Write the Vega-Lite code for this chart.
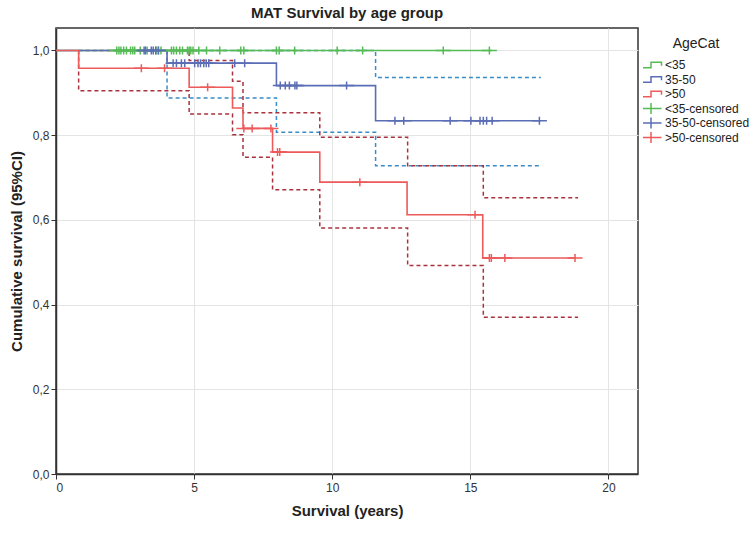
{
  "$schema": "https://vega.github.io/schema/vega-lite/v6.json",
  "width": 582,
  "height": 446,
  "autosize": {"type": "none"},
  "padding": {"left": 56, "top": 28, "right": 111, "bottom": 59},
  "background": "white",
  "title": {"text": "MAT Survival by age group", "font": "Liberation Sans", "fontSize": 15, "fontWeight": "bold", "color": "#222", "anchor": "middle", "offset": 7},
  "config": {
    "font": "Liberation Sans",
    "view": {"stroke": "#333", "strokeWidth": 1.5},
    "axis": {"gridColor": "#e4e4e4", "gridWidth": 1, "domainColor": "#333", "domainWidth": 1.5, "tickColor": "#333", "tickSize": 5, "labelFont": "Liberation Sans", "labelFontSize": 12, "labelColor": "#333", "titleFont": "Liberation Sans", "titleFontSize": 15, "titleFontWeight": "bold", "titleColor": "#222"},
    "legend": {"orient": "none", "legendX": 587, "legendY": 9, "titleFontSize": 14, "titleFontWeight": "normal", "titleColor": "#222", "titleAnchor": "middle", "titlePadding": 7, "labelFontSize": 12, "labelColor": "#222", "labelOffset": 6, "symbolSize": 196, "symbolStrokeWidth": 1.5, "symbolFillColor": "transparent", "rowPadding": 0.5, "clipHeight": 14}
  },
  "datasets": {
    "curves": [
      {"group": "<35", "t": 0, "s": 1},
      {"group": "<35", "t": 15.77, "s": 1},
      {"group": "35-50", "t": 0, "s": 1},
      {"group": "35-50", "t": 4.02, "s": 0.970},
      {"group": "35-50", "t": 7.98, "s": 0.917},
      {"group": "35-50", "t": 11.57, "s": 0.834},
      {"group": "35-50", "t": 17.55, "s": 0.834},
      {"group": ">50", "t": 0, "s": 1},
      {"group": ">50", "t": 0.82, "s": 0.958},
      {"group": ">50", "t": 4.82, "s": 0.913},
      {"group": ">50", "t": 6.39, "s": 0.864},
      {"group": ">50", "t": 6.77, "s": 0.816},
      {"group": ">50", "t": 7.84, "s": 0.760},
      {"group": ">50", "t": 9.55, "s": 0.689},
      {"group": ">50", "t": 12.71, "s": 0.612},
      {"group": ">50", "t": 15.45, "s": 0.510},
      {"group": ">50", "t": 18.8, "s": 0.510}
    ],
    "ci": [
      {"group": "35-50", "bound": "upper", "t": 4.02, "s": 1},
      {"group": "35-50", "bound": "upper", "t": 11.57, "s": 0.936},
      {"group": "35-50", "bound": "upper", "t": 17.55, "s": 0.936},
      {"group": "35-50", "bound": "lower", "t": 4.02, "s": 1},
      {"group": "35-50", "bound": "lower", "t": 4.02, "s": 0.888},
      {"group": "35-50", "bound": "lower", "t": 7.98, "s": 0.807},
      {"group": "35-50", "bound": "lower", "t": 11.57, "s": 0.728},
      {"group": "35-50", "bound": "lower", "t": 17.55, "s": 0.728},
      {"group": ">50", "bound": "upper", "t": 0.82, "s": 1},
      {"group": ">50", "bound": "upper", "t": 4.82, "s": 0.976},
      {"group": ">50", "bound": "upper", "t": 6.39, "s": 0.927},
      {"group": ">50", "bound": "upper", "t": 6.77, "s": 0.853},
      {"group": ">50", "bound": "upper", "t": 9.55, "s": 0.795},
      {"group": ">50", "bound": "upper", "t": 12.73, "s": 0.728},
      {"group": ">50", "bound": "upper", "t": 15.47, "s": 0.652},
      {"group": ">50", "bound": "upper", "t": 18.9, "s": 0.652},
      {"group": ">50", "bound": "lower", "t": 0.82, "s": 1},
      {"group": ">50", "bound": "lower", "t": 0.82, "s": 0.905},
      {"group": ">50", "bound": "lower", "t": 4.82, "s": 0.850},
      {"group": ">50", "bound": "lower", "t": 6.39, "s": 0.801},
      {"group": ">50", "bound": "lower", "t": 6.77, "s": 0.748},
      {"group": ">50", "bound": "lower", "t": 7.84, "s": 0.671},
      {"group": ">50", "bound": "lower", "t": 9.55, "s": 0.581},
      {"group": ">50", "bound": "lower", "t": 12.73, "s": 0.492},
      {"group": ">50", "bound": "lower", "t": 15.47, "s": 0.370},
      {"group": ">50", "bound": "lower", "t": 18.9, "s": 0.370}
    ],
    "censors": [
      {"group": "<35-censored", "t": 2.2, "s": 1},
      {"group": "<35-censored", "t": 2.28, "s": 1},
      {"group": "<35-censored", "t": 2.35, "s": 1},
      {"group": "<35-censored", "t": 2.45, "s": 1},
      {"group": "<35-censored", "t": 2.55, "s": 1},
      {"group": "<35-censored", "t": 2.7, "s": 1},
      {"group": "<35-censored", "t": 2.78, "s": 1},
      {"group": "<35-censored", "t": 2.85, "s": 1},
      {"group": "<35-censored", "t": 3.05, "s": 1},
      {"group": "<35-censored", "t": 3.3, "s": 1},
      {"group": "<35-censored", "t": 3.62, "s": 1},
      {"group": "<35-censored", "t": 3.7, "s": 1},
      {"group": "<35-censored", "t": 3.8, "s": 1},
      {"group": "<35-censored", "t": 4.18, "s": 1},
      {"group": "<35-censored", "t": 4.26, "s": 1},
      {"group": "<35-censored", "t": 4.36, "s": 1},
      {"group": "<35-censored", "t": 4.48, "s": 1},
      {"group": "<35-censored", "t": 4.58, "s": 1},
      {"group": "<35-censored", "t": 4.76, "s": 1},
      {"group": "<35-censored", "t": 4.82, "s": 1},
      {"group": "<35-censored", "t": 4.88, "s": 1},
      {"group": "<35-censored", "t": 4.96, "s": 1},
      {"group": "<35-censored", "t": 5.17, "s": 1},
      {"group": "<35-censored", "t": 5.45, "s": 1},
      {"group": "<35-censored", "t": 5.93, "s": 1},
      {"group": "<35-censored", "t": 6.69, "s": 1},
      {"group": "<35-censored", "t": 6.8, "s": 1},
      {"group": "<35-censored", "t": 7.98, "s": 1},
      {"group": "<35-censored", "t": 8.08, "s": 1},
      {"group": "<35-censored", "t": 8.64, "s": 1},
      {"group": "<35-censored", "t": 10.18, "s": 1},
      {"group": "<35-censored", "t": 11.1, "s": 1},
      {"group": "<35-censored", "t": 14.02, "s": 1},
      {"group": "<35-censored", "t": 15.69, "s": 1},
      {"group": "35-50-censored", "t": 3.19, "s": 1},
      {"group": "35-50-censored", "t": 3.24, "s": 1},
      {"group": "35-50-censored", "t": 3.45, "s": 1},
      {"group": "35-50-censored", "t": 3.52, "s": 1},
      {"group": "35-50-censored", "t": 3.61, "s": 1},
      {"group": "35-50-censored", "t": 3.71, "s": 1},
      {"group": "35-50-censored", "t": 4.24, "s": 0.970},
      {"group": "35-50-censored", "t": 4.36, "s": 0.970},
      {"group": "35-50-censored", "t": 4.54, "s": 0.970},
      {"group": "35-50-censored", "t": 4.66, "s": 0.970},
      {"group": "35-50-censored", "t": 5.02, "s": 0.970},
      {"group": "35-50-censored", "t": 5.14, "s": 0.970},
      {"group": "35-50-censored", "t": 5.23, "s": 0.970},
      {"group": "35-50-censored", "t": 5.35, "s": 0.970},
      {"group": "35-50-censored", "t": 5.44, "s": 0.970},
      {"group": "35-50-censored", "t": 5.53, "s": 0.970},
      {"group": "35-50-censored", "t": 6.47, "s": 0.970},
      {"group": "35-50-censored", "t": 6.83, "s": 0.970},
      {"group": "35-50-censored", "t": 8.12, "s": 0.917},
      {"group": "35-50-censored", "t": 8.3, "s": 0.917},
      {"group": "35-50-censored", "t": 8.45, "s": 0.917},
      {"group": "35-50-censored", "t": 8.65, "s": 0.917},
      {"group": "35-50-censored", "t": 8.72, "s": 0.917},
      {"group": "35-50-censored", "t": 10.52, "s": 0.917},
      {"group": "35-50-censored", "t": 12.27, "s": 0.834},
      {"group": "35-50-censored", "t": 12.59, "s": 0.834},
      {"group": "35-50-censored", "t": 14.27, "s": 0.834},
      {"group": "35-50-censored", "t": 15.02, "s": 0.834},
      {"group": "35-50-censored", "t": 15.35, "s": 0.834},
      {"group": "35-50-censored", "t": 15.47, "s": 0.834},
      {"group": "35-50-censored", "t": 15.59, "s": 0.834},
      {"group": "35-50-censored", "t": 15.79, "s": 0.834},
      {"group": "35-50-censored", "t": 17.5, "s": 0.834},
      {"group": ">50-censored", "t": 3.09, "s": 0.958},
      {"group": ">50-censored", "t": 3.93, "s": 0.958},
      {"group": ">50-censored", "t": 5.49, "s": 0.913},
      {"group": ">50-censored", "t": 6.8, "s": 0.816},
      {"group": ">50-censored", "t": 7.1, "s": 0.816},
      {"group": ">50-censored", "t": 7.78, "s": 0.816},
      {"group": ">50-censored", "t": 8.02, "s": 0.760},
      {"group": ">50-censored", "t": 8.1, "s": 0.760},
      {"group": ">50-censored", "t": 11.0, "s": 0.689},
      {"group": ">50-censored", "t": 15.17, "s": 0.612},
      {"group": ">50-censored", "t": 15.69, "s": 0.510},
      {"group": ">50-censored", "t": 15.76, "s": 0.510},
      {"group": ">50-censored", "t": 16.25, "s": 0.510},
      {"group": ">50-censored", "t": 18.79, "s": 0.510}
    ]
  },
  "encoding": {
    "x": {"field": "t", "type": "quantitative", "scale": {"domain": [0, 21.07], "nice": false, "zero": false}, "axis": {"title": "Survival (years)", "values": [0, 5, 10, 15, 20], "titlePadding": 10, "labelPadding": 3}},
    "y": {"field": "s", "type": "quantitative", "scale": {"domain": [0, 1.053], "nice": false, "zero": false}, "axis": {"title": "Cumulative survival (95%CI)", "values": [0, 0.2, 0.4, 0.6, 0.8, 1.0], "labelExpr": "replace(format(datum.value, '.1f'), '.', ',')", "titlePadding": 8, "labelPadding": 2}}
  },
  "layer": [
    {
      "data": {"name": "ci"},
      "transform": [{"filter": "datum.group === '35-50'"}],
      "mark": {"type": "line", "interpolate": "step-after", "strokeDash": [4, 3], "strokeWidth": 1.5, "color": "#3a8cc6"},
      "encoding": {"detail": {"field": "bound"}}
    },
    {
      "data": {"name": "ci"},
      "transform": [{"filter": "datum.group === '>50'"}],
      "mark": {"type": "line", "interpolate": "step-after", "strokeDash": [4, 3], "strokeWidth": 1.5, "color": "#a8323e"},
      "encoding": {"detail": {"field": "bound"}}
    },
    {
      "data": {"name": "curves"},
      "mark": {"type": "line", "interpolate": "step-after", "strokeWidth": 1.6},
      "encoding": {
        "color": {"field": "group", "type": "nominal", "scale": {"domain": ["<35", "35-50", ">50", "<35-censored", "35-50-censored", ">50-censored"], "range": ["#55bb55", "#5a6db5", "#ec5a5a", "#55bb55", "#5a6db5", "#ec5a5a"]}, "legend": {"title": "AgeCat"}}
      }
    },
    {
      "data": {"name": "censors"},
      "mark": {"type": "point", "filled": false, "size": 100, "strokeWidth": 1.5, "opacity": 1},
      "encoding": {
        "color": {"field": "group", "type": "nominal", "legend": {"title": "AgeCat"}},
        "shape": {"field": "group", "type": "nominal", "scale": {"domain": ["<35", "35-50", ">50", "<35-censored", "35-50-censored", ">50-censored"], "range": ["M-1.5,0.4H0V-0.4H1.5V0.1", "M-1.5,0.4H0V-0.4H1.5V0.1", "M-1.5,0.4H0V-0.4H1.5V0.1", "M-1.5,0H1.5M0,-0.8V0.8", "M-1.5,0H1.5M0,-0.8V0.8", "M-1.5,0H1.5M0,-0.8V0.8"]}, "legend": {"title": "AgeCat"}}
      }
    }
  ],
  "resolve": {"legend": {"color": "shared", "shape": "shared"}}
}
